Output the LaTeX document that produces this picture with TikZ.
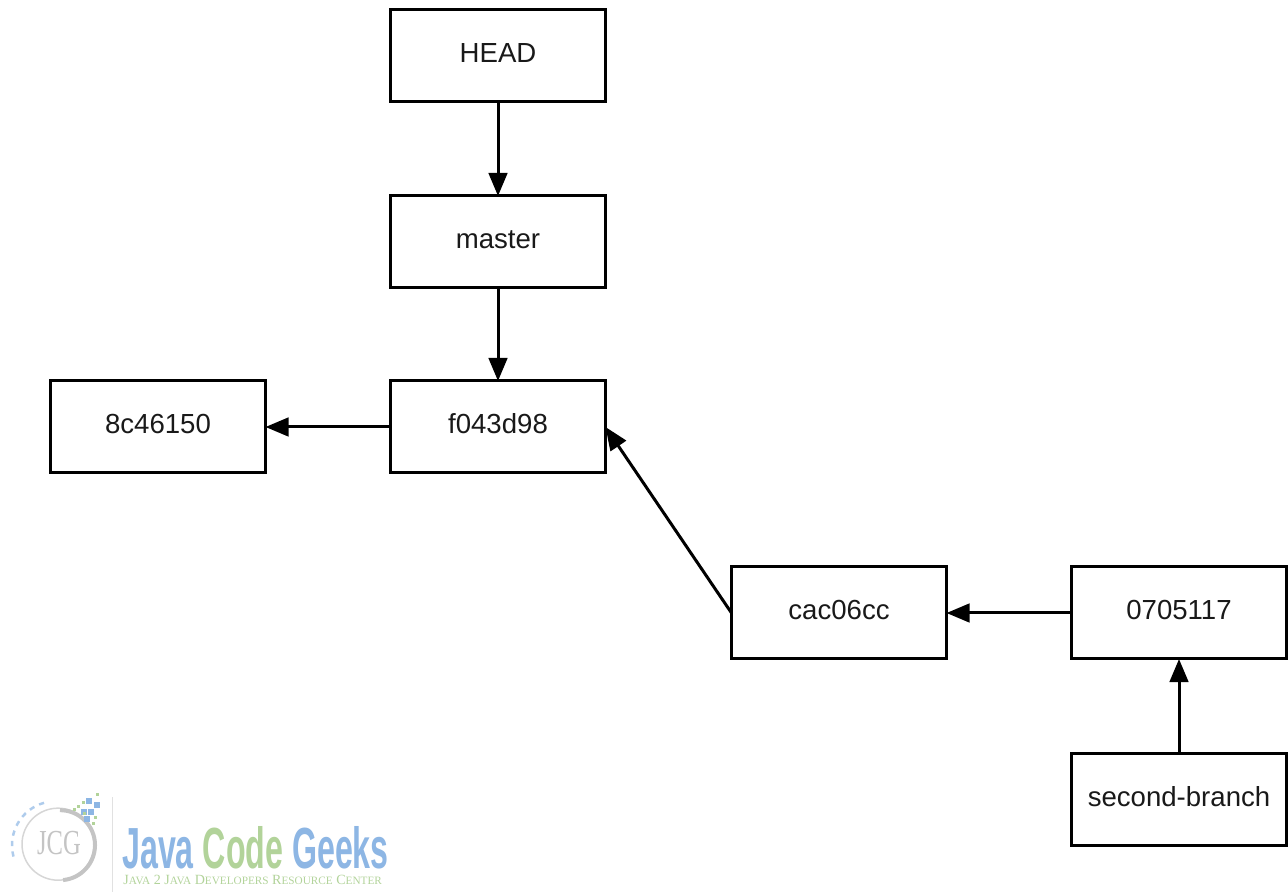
\documentclass[tikz,border=0pt]{standalone}
\usepackage{fontspec}
\setmainfont{Liberation Sans}
\newfontfamily\logoserif{Liberation Serif}
\usetikzlibrary{arrows.meta}
\definecolor{logoblue}{HTML}{8DB6E4}
\definecolor{logogreen}{HTML}{B2D39A}
\definecolor{logogray}{HTML}{C4C4C4}
\tikzset{
	box/.style = {draw, line width=0.06cm, outer sep=0, minimum width=4.3cm, minimum height=1.84cm, text height=0.42cm, text depth=0.14cm, font=\fontsize{15.7}{18}\selectfont, text=black!90},
	link/.style = {line width=0.06cm, -{Triangle[length=0.46cm, width=0.37cm]}},
	sq/.style = {fill=logoblue},
	dot/.style = {fill=logogreen}
}

\begin{document}
\begin{tikzpicture}
	\useasboundingbox (0,0) rectangle (25.76,17.84);
	\node[box] (head) at (9.96,16.72) {HEAD};
	\node[box] (master) at (9.96,13) {master};
	\node[box] (f) at (9.96,9.3) {f043d98};
	\node[box] (c) at (3.16,9.3) {8c46150};
	\node[box] (cac) at (16.78,5.58) {cac06cc};
	\node[box] (s) at (23.58,5.58) {0705117};
	\node[box] (second) at (23.58,1.86) {second-branch};
	\path
		(head) edge[link] (master)
		(master) edge[link] (f)
		(f) edge[link] (c)
		(cac.west) edge[link] (f.east)
		(s) edge[link] (cac)
		(second) edge[link] (s) ;
	% logo, in pixels of the page
	\begin{scope}[shift={(0,17.84)}, x=0.02cm, y=-0.02cm]
		\draw[logogray!50, line width=0.02cm] (112,797) -- (112,892);
		\draw[logogray!70, line width=0.03cm] (58,844) circle (36);
		\draw[logogray, line width=0.08cm] ([shift={(-90:35)}]60,845) arc (-90:85:35);
		\draw[logoblue!70, line width=0.05cm, dashed] ([shift={(165:44)}]56,845) arc (165:255:44);
		\foreach \x/\y in {89/801, 97/805, 91/812, 84/812, 87/819}
			\fill[sq] (\x-3,\y-3) rectangle ++(6,6);
		\foreach \x/\y in {97/794, 83/802, 74/809, 78/806, 84/813, 95/817, 93/823}
			\fill[dot] (\x-1.5,\y-1.5) rectangle ++(3,3);
		\node[text=logogray, font=\logoserif\fontsize{20}{22}\selectfont, xscale=0.7, transform shape] (jcg) at (59,843) {JCG};
		\node[font=\bfseries\fontsize{33}{36}\selectfont, xscale=0.555, transform shape, anchor=base west, inner sep=0] (geeks) at (122,868) {\textcolor{logoblue}{Java} \textcolor{logogreen}{Code} \textcolor{logoblue}{Geeks}};
		\node[text=logogreen, font=\logoserif\fontsize{8}{9}\selectfont, anchor=base west, inner sep=0] (slogan) at (123,884) {J\scalebox{0.8}{AVA} 2 J\scalebox{0.8}{AVA} D\scalebox{0.8}{EVELOPERS} R\scalebox{0.8}{ESOURCE} C\scalebox{0.8}{ENTER}};
	\end{scope}
\end{tikzpicture}
\end{document}
